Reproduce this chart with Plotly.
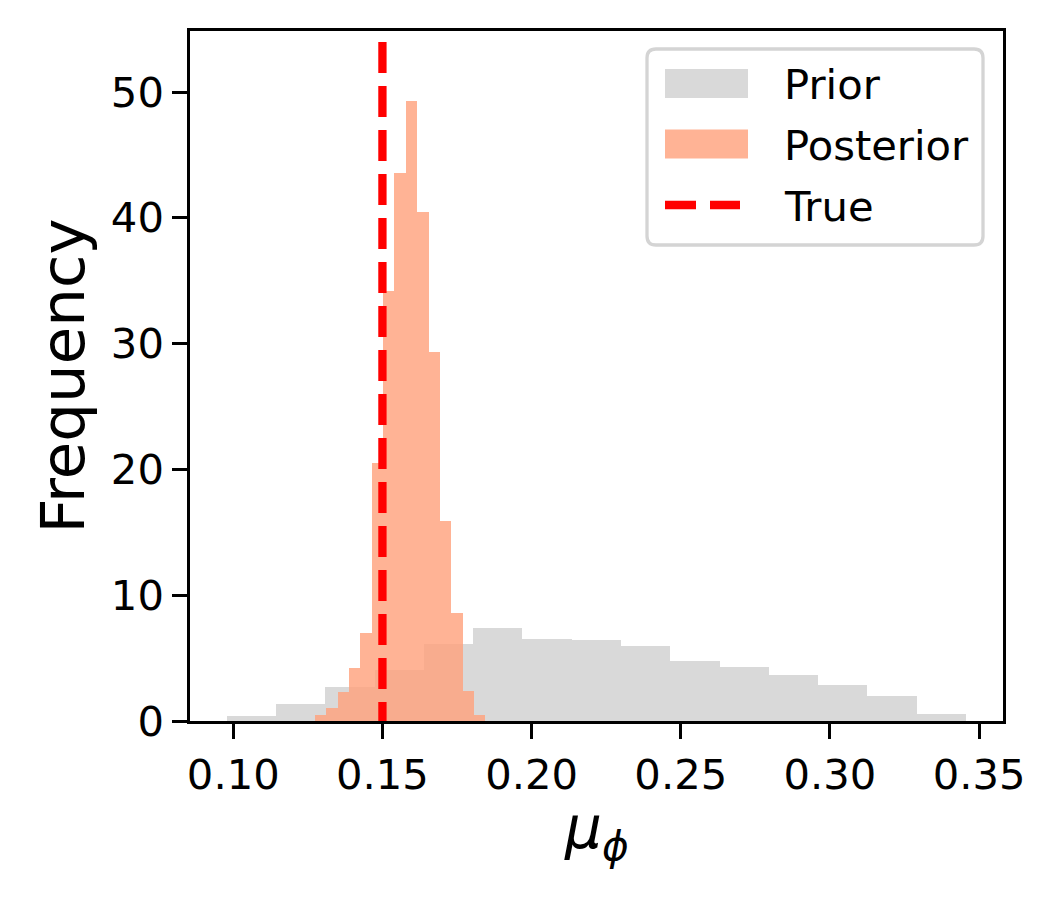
import numpy as np
import plotly.graph_objects as go

# histogram of prior draws (density), bin edges
prior_edges = [0.0979, 0.1144, 0.1309, 0.1474, 0.1639, 0.1804, 0.1969, 0.2135,
               0.2300, 0.2465, 0.2630, 0.2795, 0.2960, 0.3125, 0.3291, 0.3456]
prior_heights = [0.40, 1.35, 2.70, 4.05, 6.15, 7.39, 6.52, 6.44,
                 5.96, 4.80, 4.29, 3.66, 2.86, 1.99, 0.56]

# histogram of posterior draws (density)
post_edges = [0.1274, 0.1312, 0.1350, 0.1388, 0.1426, 0.1464, 0.1502, 0.1540,
              0.1579, 0.1617, 0.1655, 0.1693, 0.1731, 0.1769, 0.1807, 0.1845]
post_heights = [0.49, 1.05, 2.30, 4.21, 7.00, 20.5, 34.2, 43.6,
                49.3, 40.5, 29.3, 15.9, 8.55, 2.40, 0.49]

true_val = 0.15
labels = ["Prior", "Posterior", "True"]
x_ticks = [0.10, 0.15, 0.20, 0.25, 0.30, 0.35]
y_ticks = [0, 10, 20, 30, 40, 50]

prior_col = "rgba(128,128,128,0.3)"
post_col = "rgba(255,160,122,0.8)"
FONT = "DejaVu Sans"

# page body has an 8px margin, so the figure is a bit smaller than the window
OFF = 8
W, H = 1054 - OFF, 898 - OFF
L, R, T, B = 190 - OFF, 51, 31 - OFF, 177
pw, ph = W - L - R, H - T - B


def px(x):  # window pixel -> paper
    return (x - OFF - L) / pw


def py(y):
    return (H - B - (y - OFF)) / ph


def hist_bar(edges, heights, col, name):
    e = np.array(edges)
    return go.Bar(x=(e[:-1] + e[1:]) / 2, y=heights, width=np.diff(e),
                  marker=dict(color=col, line=dict(width=0)), name=name,
                  showlegend=False, hoverinfo="x+y")


fig = go.Figure()
fig.add_trace(hist_bar(prior_edges, prior_heights, prior_col, labels[0]))
fig.add_trace(hist_bar(post_edges, post_heights, post_col, labels[1]))

# axvline for the true value
fig.add_shape(type="line", xref="x", yref="y domain", x0=true_val, x1=true_val,
              y0=0.984, y1=0, line=dict(color="red", width=8.3, dash="31px,13px"))

# legend drawn by hand (matplotlib style patches)
x0, x1, y0, y1, r = px(647), px(983), py(49), py(245), 9
rx, ry = r / pw, r / ph
path = (f"M {x0+rx},{y0} L {x1-rx},{y0} Q {x1},{y0} {x1},{y0-ry} "
        f"L {x1},{y1+ry} Q {x1},{y1} {x1-rx},{y1} L {x0+rx},{y1} "
        f"Q {x0},{y1} {x0},{y1+ry} L {x0},{y0-ry} Q {x0},{y0} {x0+rx},{y0} Z")
fig.add_shape(type="path", xref="paper", yref="paper", path=path,
              fillcolor="rgba(255,255,255,0.8)", line=dict(color="#d4d4d4", width=3.3))
rows = [83.5, 144, 205]
for yc, col in zip(rows[:2], [prior_col, post_col]):
    fig.add_shape(type="rect", xref="paper", yref="paper", x0=px(665), x1=px(748),
                  y0=py(yc - 14.5), y1=py(yc + 14.5), fillcolor=col, line=dict(width=0))
fig.add_shape(type="line", xref="paper", yref="paper", x0=px(665), x1=px(740),
              y0=py(rows[2]), y1=py(rows[2]), line=dict(color="red", width=8.3, dash="31px,14px"))
for yc, lab in zip(rows, labels):
    fig.add_annotation(x=px(782), y=py(yc + 1), xref="paper", yref="paper", text=lab,
                       showarrow=False, xanchor="left", yanchor="middle",
                       font=dict(family=FONT, size=41.7, color="black"))

# x label as annotation so it can sit closer to the tick labels
fig.add_annotation(x=0.5, y=py(832), xref="paper", yref="paper",
                   text="<i>μ</i><sub><i>ϕ</i></sub>", showarrow=False,
                   xanchor="center", yanchor="middle",
                   font=dict(family=FONT, size=58, color="black"))

axis_common = dict(showline=True, linecolor="black", linewidth=3.3, mirror=True,
                   ticks="outside", ticklen=14.6, tickwidth=3.3, tickcolor="black",
                   showgrid=False, zeroline=False,
                   tickfont=dict(family=FONT, size=41.7, color="black"))

fig.update_layout(
    width=W, height=H, margin=dict(l=L, r=R, t=T, b=B),
    plot_bgcolor="white", paper_bgcolor="white",
    barmode="overlay", bargap=0,
    xaxis=dict(range=[0.0855, 0.3580], tickvals=x_ticks, tickformat=".2f",
               **axis_common),
    yaxis=dict(range=[0, 54.85], tickvals=y_ticks,
               title=dict(text="Frequency", standoff=7,
                          font=dict(family=FONT, size=61, color="black")),
               **axis_common),
)

fig.write_html("out.html")
